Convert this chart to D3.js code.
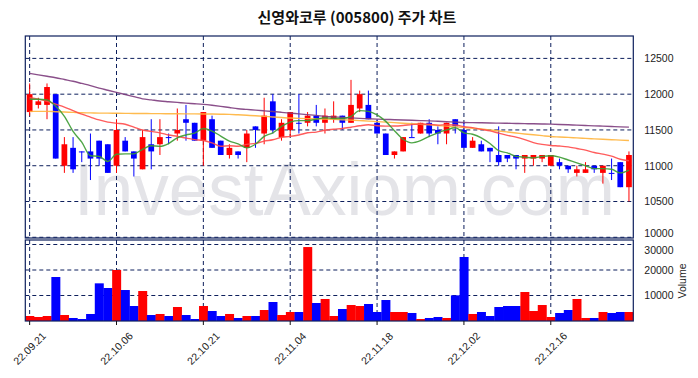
<!DOCTYPE html>
<html><head><meta charset="utf-8">
<script src="https://cdn.jsdelivr.net/npm/d3@7"></script>
<style>body{margin:0;background:#fff}text{font-family:"Liberation Sans",Arial,sans-serif}</style>
</head><body><svg id="c" width="698" height="378"></svg>
<script>
const dates = ["22.09.21","22.09.22","22.09.23","22.09.26","22.09.27","22.09.28","22.09.29","22.09.30","22.10.04","22.10.05",
"22.10.06","22.10.07","22.10.11","22.10.12","22.10.13","22.10.14","22.10.17","22.10.18","22.10.19","22.10.20",
"22.10.21","22.10.24","22.10.25","22.10.26","22.10.27","22.10.28","22.10.31","22.11.01","22.11.02","22.11.03",
"22.11.04","22.11.07","22.11.08","22.11.09","22.11.10","22.11.11","22.11.14","22.11.15","22.11.16","22.11.17",
"22.11.18","22.11.21","22.11.22","22.11.23","22.11.24","22.11.25","22.11.28","22.11.29","22.11.30","22.12.01",
"22.12.02","22.12.05","22.12.06","22.12.07","22.12.08","22.12.09","22.12.12","22.12.13","22.12.14","22.12.15",
"22.12.16","22.12.19","22.12.20","22.12.21","22.12.22","22.12.23","22.12.26","22.12.27","22.12.28","22.12.29"];
const open = [11750,11850,11850,12000,11000,11250,11200,11200,11350,11300,
11000,11350,11200,10950,11300,11300,11400,11450,11650,11600,
11350,11650,11350,11150,11200,11250,11550,11450,11900,11400,
11500,11600,11600,11700,11600,11650,11700,11600,11800,11850,
11600,11450,11150,11200,11400,11450,11600,11500,11450,11650,
11500,11250,11300,11250,11150,11150,11150,11100,11100,11100,
11000,11050,11000,10900,10900,11000,10900,10900,11050,10700];
const high = [12150,11950,12150,12000,11400,11400,11200,11450,11350,11300,
11650,11400,11200,11500,11650,11650,11450,11800,11850,11600,
11750,11700,11350,11300,11200,11500,11550,11950,12000,11650,
11750,12000,11750,11850,11800,11900,11700,12200,12050,12050,
11650,11450,11200,11400,11600,11600,11650,11550,11600,11650,
11600,11400,11350,11250,11550,11150,11150,11150,11150,11150,
11150,11100,11000,11000,11050,11000,11000,11100,11050,11200];
const low = [11700,11800,11650,11100,10900,10900,11050,10800,11000,10900,
10900,11200,10850,10950,10950,11150,11300,11350,11350,11350,
11000,11250,11150,11100,11100,11050,11250,11300,11450,11350,
11400,11450,11550,11550,11450,11600,11500,11600,11750,11650,
11450,11150,11100,11200,11400,11450,11400,11300,11300,11450,
11250,11250,11200,11050,11000,11050,10950,10900,11000,11050,
11000,10950,10900,10850,10900,10900,10750,10800,10700,10500];
const close = [12000,11900,12100,11100,11300,10950,11200,11100,11100,10900,
11500,11200,11100,11400,11200,11400,11400,11500,11600,11350,
11750,11250,11150,11250,11150,11450,11500,11700,11500,11600,
11750,11600,11700,11600,11700,11700,11600,11850,12000,11650,
11450,11150,11200,11400,11400,11600,11450,11450,11600,11550,
11250,11350,11200,11200,11050,11100,11100,11150,11150,11150,
11150,11000,10950,10950,10950,10950,11000,10900,10700,11150];
const volume = [1960,1570,1960,17250,2350,1180,780,2750,14770,12940,
20000,12150,5880,11760,2350,2750,1960,5490,2350,780,
5880,3920,1960,2750,1180,1960,1960,4310,7450,2350,
3530,3530,29000,7060,8630,1960,4700,6270,5880,6670,
3530,8230,3530,3530,3140,780,1180,1570,1180,10060,
25100,2750,3530,1960,5490,5880,5880,11370,3920,6270,
1570,3140,4310,8630,1180,1180,3530,3140,3530,3530];
const ma5 = [11930,11930,11920,11830,11690,11480,11330,11140,11130,11060,
11160,11165,11165,11230,11280,11270,11310,11390,11430,11455,
11520,11485,11415,11345,11305,11250,11300,11410,11460,11550,
11610,11630,11630,11650,11670,11660,11660,11690,11770,11760,
11710,11620,11490,11370,11320,11350,11410,11460,11500,11530,
11460,11440,11390,11310,11210,11180,11130,11120,11110,11130,
11140,11120,11080,11040,11000,10960,10960,10950,10900,10940];
const ma20 = [11950,11930,11900,11860,11820,11770,11720,11680,11640,11610,
11595,11580,11540,11500,11480,11460,11430,11410,11385,11365,
11353,11320,11273,11280,11273,11298,11313,11343,11363,11398,
11410,11430,11460,11470,11495,11510,11520,11538,11558,11573,
11558,11553,11555,11563,11575,11583,11580,11568,11573,11570,
11545,11533,11508,11488,11455,11425,11400,11365,11323,11298,
11283,11275,11263,11240,11218,11185,11163,11135,11090,11070];
const ma60 = [11760,11760,11760,11755,11750,11745,11740,11738,11735,11735,
11733,11732,11730,11730,11728,11728,11727,11726,11725,11724,
11723,11722,11720,11718,11712,11705,11698,11690,11682,11674,
11666,11662,11658,11655,11652,11648,11643,11637,11630,11624,
11617,11610,11602,11594,11587,11579,11571,11562,11553,11543,
11534,11524,11514,11500,11486,11472,11458,11444,11432,11420,
11408,11402,11396,11389,11382,11376,11370,11364,11358,11352];
const ma120 = [12290,12270,12250,12230,12205,12180,12150,12120,12085,12055,
12025,11995,11965,11935,11920,11905,11895,11885,11875,11867,
11858,11845,11830,11813,11797,11787,11777,11767,11757,11746,
11735,11725,11714,11703,11690,11683,11676,11669,11662,11656,
11651,11647,11643,11639,11635,11631,11627,11621,11615,11610,
11604,11602,11600,11597,11595,11593,11590,11588,11586,11583,
11581,11577,11572,11567,11562,11557,11553,11548,11543,11539];
const tickDates = ["22.09.21","22.10.06","22.10.21","22.11.04","22.11.18","22.12.02","22.12.16"];
const priceTicks = [10000,10500,11000,11500,12000,12500];
const volTicks = [10000,20000,30000];
const title = "신영와코루 (005800) 주가 차트";

const L = 25.3, R = 633.3, T1 = 36, B1 = 238, T2 = 240, B2 = 321;
const navy = "#0d1f5c";
const svg = d3.select("#c");
svg.append("rect").attr("width",698).attr("height",378).attr("fill","#fff");

const x = d3.scaleBand().domain(dates).range([L, R]).padding(0);
const cx = d => x(d) + x.bandwidth()/2;
const y = d3.scaleLinear().domain([9990, 12813]).range([B1, T1]);
const yv = d3.scaleLinear().domain([0, 31765]).range([B2, T2]);

const data = dates.map((d,i)=>({d, o:open[i], h:high[i], l:low[i], c:close[i], v:volume[i]}));
const col = p => p.c > p.o ? "#ff0000" : "#0000ff";

// watermark
svg.append("text").attr("x", 74).attr("y", 215).attr("font-size", 74)
  .attr("textLength", 541).attr("lengthAdjust", "spacingAndGlyphs")
  .attr("fill", "#e4e4e8").style("font-family","'Liberation Sans',Arial,sans-serif")
  .text("InvestAxiom.com");

const defs = svg.append("defs");
defs.append("clipPath").attr("id","cp1").append("rect").attr("x",L).attr("y",T1).attr("width",R-L).attr("height",B1-T1);
defs.append("clipPath").attr("id","cp2").append("rect").attr("x",L).attr("y",T2).attr("width",R-L).attr("height",B2-T2);

// grids
const grid = svg.append("g").attr("stroke", navy).attr("stroke-width",1).attr("stroke-dasharray","4,3").attr("fill","none");
tickDates.forEach(t => {
  grid.append("line").attr("x1",cx(t)).attr("x2",cx(t)).attr("y1",T1).attr("y2",B1);
  grid.append("line").attr("x1",cx(t)).attr("x2",cx(t)).attr("y1",T2).attr("y2",B2);
});
priceTicks.forEach(v => grid.append("line").attr("x1",L).attr("x2",R).attr("y1",y(v)).attr("y2",y(v)));
volTicks.forEach(v => grid.append("line").attr("x1",L).attr("x2",R).attr("y1",yv(v)).attr("y2",yv(v)));

// volume bars
svg.append("g").attr("clip-path","url(#cp2)").selectAll("rect").data(data).join("rect")
  .attr("x", p => x(p.d)).attr("width", x.bandwidth()+0.3)
  .attr("y", p => yv(p.v)).attr("height", p => B2 - yv(p.v))
  .attr("fill", col);

// candles
const cg = svg.append("g").attr("clip-path","url(#cp1)");
const bw = x.bandwidth()*0.66;
cg.selectAll("line.w").data(data).join("line").attr("class","w")
  .attr("x1", p => cx(p.d)).attr("x2", p => cx(p.d))
  .attr("y1", p => y(p.h)).attr("y2", p => y(p.l))
  .attr("stroke", col).attr("stroke-width", 1);
cg.selectAll("rect.b").data(data).join("rect").attr("class","b")
  .attr("x", p => cx(p.d) - bw/2).attr("width", bw)
  .attr("y", p => y(Math.max(p.o,p.c)))
  .attr("height", p => Math.max(1, Math.abs(y(p.o) - y(p.c))))
  .attr("fill", col);

// moving averages
const mas = [[ma120,"#7d3c7d"],[ma60,"#ffb43c"],[ma20,"#ff4a4a"],[ma5,"#3b9b32"]];
const line = d3.line().x((v,i)=>cx(dates[i])).y(v=>y(v)).curve(d3.curveMonotoneX);
mas.forEach(([arr,c]) => cg.append("path").datum(arr).attr("d", line)
  .attr("fill","none").attr("stroke",c).attr("stroke-width",1.4).attr("stroke-opacity",0.9));

// frames
svg.append("rect").attr("x",L).attr("y",T1).attr("width",R-L).attr("height",B1-T1).attr("fill","none").attr("stroke",navy).attr("stroke-width",1.2);
svg.append("rect").attr("x",L).attr("y",T2).attr("width",R-L).attr("height",B2-T2).attr("fill","none").attr("stroke",navy).attr("stroke-width",1.2);

// axes
const ay = svg.append("g").attr("transform",`translate(${R},0)`)
  .call(d3.axisRight(y).tickValues(priceTicks).tickSize(0).tickPadding(11).tickFormat(d3.format("d")));
const av = svg.append("g").attr("transform",`translate(${R},0)`)
  .call(d3.axisRight(yv).tickValues(volTicks).tickSize(0).tickPadding(11).tickFormat(d3.format("d")));
[ay,av].forEach(a => { a.select(".domain").remove(); a.selectAll("text").attr("font-size",10.5).attr("fill","#222").style("font-family","'Liberation Sans',Arial,sans-serif"); });
// keep the two stacked labels at the panel seam from colliding
ay.selectAll(".tick").filter(d => d === 10000).select("text").attr("dy","-0.05em");
av.selectAll(".tick").filter(d => d === 30000).select("text").attr("dy","0.85em");

const ax = svg.append("g").attr("transform",`translate(0,${B2})`)
  .call(d3.axisBottom(x).tickValues(tickDates).tickSize(4).tickSizeOuter(0));
ax.select(".domain").remove();
ax.selectAll(".tick line").attr("stroke","#111");
ax.selectAll("text").attr("y",0).attr("dy","0.35em").attr("text-anchor","middle")
  .attr("transform","translate(0,27.5) rotate(-45)").attr("font-size",10.5).attr("fill","#222")
  .style("font-family","'Liberation Sans',Arial,sans-serif");

svg.append("text").attr("transform","translate(686,281) rotate(-90)").attr("text-anchor","middle")
  .attr("font-size",10.5).attr("fill","#222").text("Volume");

svg.append("text").attr("x",357).attr("y",23).attr("text-anchor","middle")
  .attr("font-size",15).attr("font-weight","bold").attr("fill","#111")
  .style("font-family","'Noto Sans CJK KR','Noto Sans',sans-serif").text(title);
</script></body></html>
